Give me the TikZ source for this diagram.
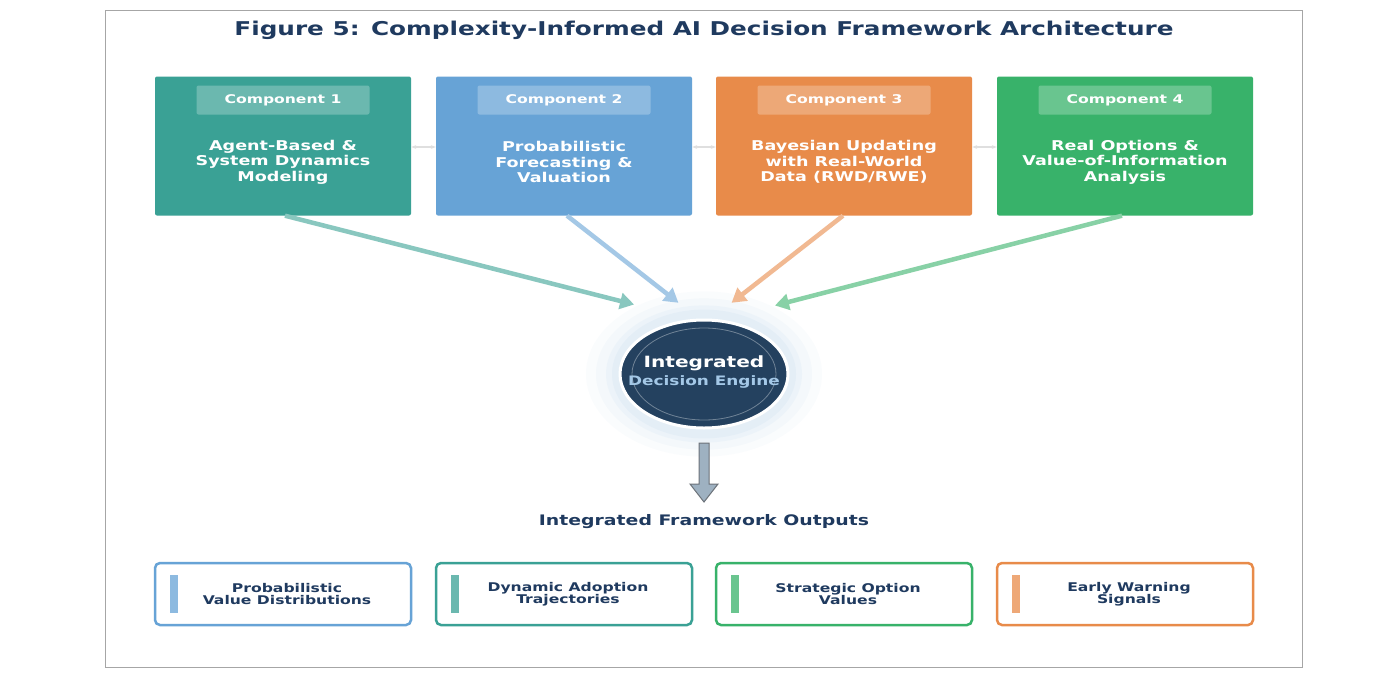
\documentclass[tikz,border=0pt]{standalone}
\usepackage{fontspec}
\setmainfont{DejaVu Sans}[FakeStretch=1.3]
\usetikzlibrary{arrows.meta,shapes.geometric}
\definecolor{cteal}{HTML}{3AA195}
\definecolor{cblue}{HTML}{67A3D6}
\definecolor{corange}{HTML}{E88B4A}
\definecolor{cgreen}{HTML}{38B26A}
\definecolor{navy}{HTML}{1F3A5F}
\definecolor{engine}{HTML}{24415F}
\tikzset{
  comp/.style={fill=#1, rounded corners=2pt, minimum width=256pt, minimum height=139pt, inner sep=0pt},
  pill/.style={fill=white, fill opacity=0.25, text opacity=1, rounded corners=2pt, minimum width=173pt, minimum height=29pt, text=white, font=\bfseries\fontsize{12}{13}\selectfont},
  ctext/.style={text=white, align=center, font=\bfseries\fontsize{13.5}{15.5}\selectfont},
  feed/.style={draw=#1!60!white, line width=4.5pt, -{Triangle[length=14pt,width=16pt]}, shorten >=2pt},
  outbox/.style={draw=#1, line width=2.5pt, rounded corners=5pt, fill=white, minimum width=256pt, minimum height=62pt},
  otext/.style={text=navy, align=center, font=\bfseries\fontsize{12}{12.5}\selectfont},
  bar/.style={fill=#1!75!white, minimum width=8pt, minimum height=38pt, inner sep=0pt},
  link/.style={draw=gray!25, line width=1.5pt, {Stealth[length=5pt]}-{Stealth[length=5pt]}},
}
\begin{document}
\begin{tikzpicture}[x=1pt,y=-1pt]
\useasboundingbox (0,0) rectangle (1400,681);
\fill[white] (0,0) rectangle (1400,681);
\draw[gray!70, line width=0.8pt] (105,10) rectangle (1302,667);
\node[text=navy, font=\bfseries\fontsize{19}{20}\selectfont] (title) at (704,30) {Figure 5: Complexity-Informed AI Decision Framework Architecture};

% components
\node[comp=cteal] (c1) at (283,146) {};
\node[comp=cblue] (c2) at (564,146) {};
\node[comp=corange] (c3) at (844,146) {};
\node[comp=cgreen] (c4) at (1125,146) {};
\foreach \i/\t in {1/{Agent-Based \&\\System Dynamics\\Modeling},2/{Probabilistic\\Forecasting \&\\Valuation},3/{Bayesian Updating\\with Real-World\\Data (RWD/RWE)},4/{Real Options \&\\Value-of-Information\\Analysis}}{
  \node[pill] (p\i) at ([yshift=46pt]c\i.center) {Component \i};
  \node[ctext] (t\i) at ([yshift=-16pt]c\i.center) {\t};
}
\draw[link] ([yshift=-1pt]c1.east) -- ([yshift=-1pt]c2.west);
\draw[link] ([yshift=-1pt]c2.east) -- ([yshift=-1pt]c3.west);
\draw[link] ([yshift=-1pt]c3.east) -- ([yshift=-1pt]c4.west);

% engine
\foreach \r/\o in {118/0.03,108/0.04,98/0.05,92/0.06}{
  \fill[cblue, opacity=\o] (704,374) ellipse ({\r} and {\r*0.7});
}
\node[draw=white, line width=3pt, fill=engine, ellipse, minimum width=168pt, minimum height=108pt, inner sep=0pt] (eng) at (704,374) {};
\draw[white, opacity=0.35, line width=0.8pt] (704,374) ellipse (72 and 46);
\node[text=white, font=\bfseries\fontsize{15.5}{16}\selectfont] (e1) at (704,363) {Integrated};
\node[text=cblue!60!white, font=\bfseries\fontsize{13}{14}\selectfont] (e2) at (704,382) {Decision Engine};

% feeds
\coordinate (a1) at (636,305);
\coordinate (a2) at (680,304);
\coordinate (a3) at (730,304);
\coordinate (a4) at (773,306);
\draw[feed=cteal] ([xshift=2pt]c1.south) -- (a1);
\draw[feed=cblue] ([xshift=3pt]c2.south) -- (a2);
\draw[feed=corange] ([xshift=-1pt]c3.south) -- (a3);
\draw[feed=cgreen] ([xshift=-3pt]c4.south) -- (a4);

% down arrow
\draw[draw=gray!80!navy, fill=gray!55!cblue!70, line width=1pt]
  (699,443) -- (709,443) -- (709,484) -- (718,484) -- (704,502) -- (690,484) -- (699,484) -- cycle;
\node[text=navy, font=\bfseries\fontsize{14.5}{15}\selectfont] (otitle) at (704,522) {Integrated Framework Outputs};

% outputs
\node[outbox=cblue] (o1) at (283,594) {};
\node[outbox=cteal] (o2) at (564,594) {};
\node[outbox=cgreen] (o3) at (844,594) {};
\node[outbox=corange] (o4) at (1125,594) {};
\foreach \i/\c/\t in {1/cblue/{Probabilistic\\Value Distributions},2/cteal/{Dynamic Adoption\\Trajectories},3/cgreen/{Strategic Option\\Values},4/corange/{Early Warning\\Signals}}{
  \node[bar=\c] (b\i) at ([xshift=-109pt]o\i.center) {};
  \node[otext] (ot\i) at ([xshift=4pt]o\i.center) {\t};
}
\end{tikzpicture}
\end{document}
